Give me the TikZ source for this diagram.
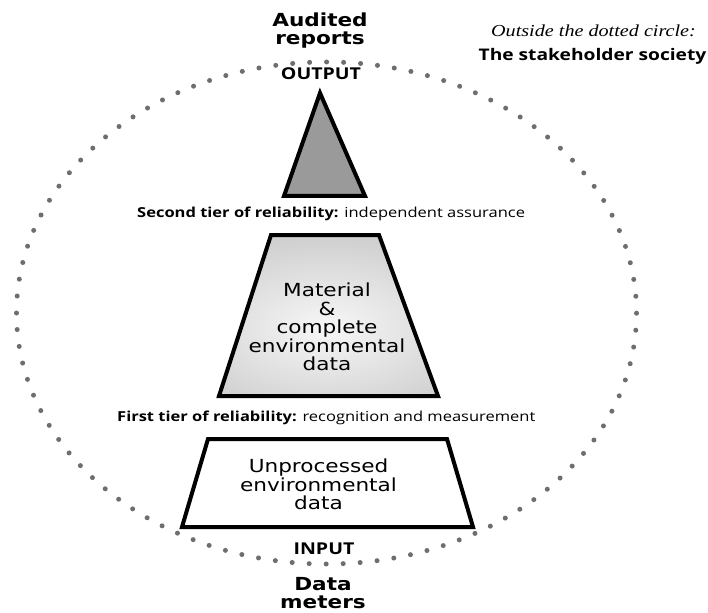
\documentclass[tikz,border=0pt]{standalone}
\usepackage{fontspec}
\usetikzlibrary{fadings}
\newfontfamily\boxfont[FakeStretch=1.2]{DejaVu Sans}
\newfontfamily\labfont[FakeStretch=1.2]{Open Sans}
\newfontfamily\itfont[FakeStretch=1.2]{Liberation Serif}
\definecolor{dotgray}{HTML}{6E6E6E}
\definecolor{topfill}{HTML}{9A9A9A}
\definecolor{midfill}{HTML}{CCCCCC}
\tikzfading[name=softglow, inner color=transparent!0, outer color=transparent!100]
\tikzset{
  dotline/.style={draw=dotgray, line width=5pt, line cap=round, dash pattern=on 0pt off 17pt},
  tier/.style={draw=black, line width=4pt, line join=miter},
  glow/.style={fill=white, fill opacity=0.85, path fading=softglow},
  boxtext/.style={inner sep=0pt, align=center, font=\boxfont\fontsize{18}{18.5}\selectfont},
  endtext/.style={inner sep=0pt, align=center, font=\boxfont\bfseries\fontsize{18}{18}\selectfont},
  iotext/.style={inner sep=0pt, font=\labfont\bfseries\fontsize{16.3}{18}\selectfont},
  lab/.style={inner sep=0pt, anchor=base west, font=\labfont\fontsize{13.75}{16}\selectfont},
}
\begin{document}
\begin{tikzpicture}[x=1pt,y=-1pt]
\useasboundingbox (0,0) rectangle (708,612);
% dotted circle (seam on the left, as in the reference)
\draw[dotline] (16.5,313) arc[start angle=180, end angle=540, x radius=310, y radius=251];
% top triangle
\coordinate (tA) at (320,93);
\coordinate (tL) at (284,196);
\coordinate (tR) at (365,196);
\filldraw[tier, fill=topfill] (tA) -- (tR) -- (tL) -- cycle;
% middle trapezoid
\coordinate (mTL) at (271,235);
\coordinate (mTR) at (379,235);
\coordinate (mBR) at (438,396);
\coordinate (mBL) at (219,396);
\fill[midfill] (mTL) -- (mTR) -- (mBR) -- (mBL) -- cycle;
% soft light halo behind the text of the middle trapezoid
\begin{scope}
  \clip (mTL) -- (mTR) -- (mBR) -- (mBL) -- cycle;
  \fill[glow] (327,328) ellipse[x radius=180, y radius=100];
\end{scope}
\draw[tier] (mTL) -- (mTR) -- (mBR) -- (mBL) -- cycle;
% bottom trapezoid
\coordinate (bTL) at (208,439);
\coordinate (bTR) at (447,439);
\coordinate (bBR) at (473,527);
\coordinate (bBL) at (182,527);
\filldraw[tier, fill=white] (bTL) -- (bTR) -- (bBR) -- (bBL) -- cycle;
% texts
\node[boxtext] (mid) at (327,327) {Material\\\&\\complete\\environmental\\data};
\node[boxtext] (low) at (318.5,484.5) {Unprocessed\\environmental\\data};
\node[endtext] (audited) at (320,30.5) {Audited\\reports};
\node[endtext] (meters) at (323,593) {Data\\meters};
\node[iotext, anchor=base] (output) at (321,80) {OUTPUT};
\node[iotext, anchor=base] (input) at (324,554) {INPUT};
\node[lab] (second) at (137,218) {\bfseries Second tier of reliability:\mdseries{} independent assurance};
\node[lab] (first) at (117,421) {\bfseries First tier of reliability:\mdseries{} recognition and measurement};
\node[inner sep=0pt, anchor=base, font=\itfont\itshape\fontsize{16.8}{18}\selectfont] (outside) at (593.5,37) {Outside the dotted circle:};
\node[inner sep=0pt, anchor=base, font=\labfont\bfseries\fontsize{16}{18}\selectfont] (society) at (592.5,61) {The stakeholder society};
\end{tikzpicture}
\end{document}
